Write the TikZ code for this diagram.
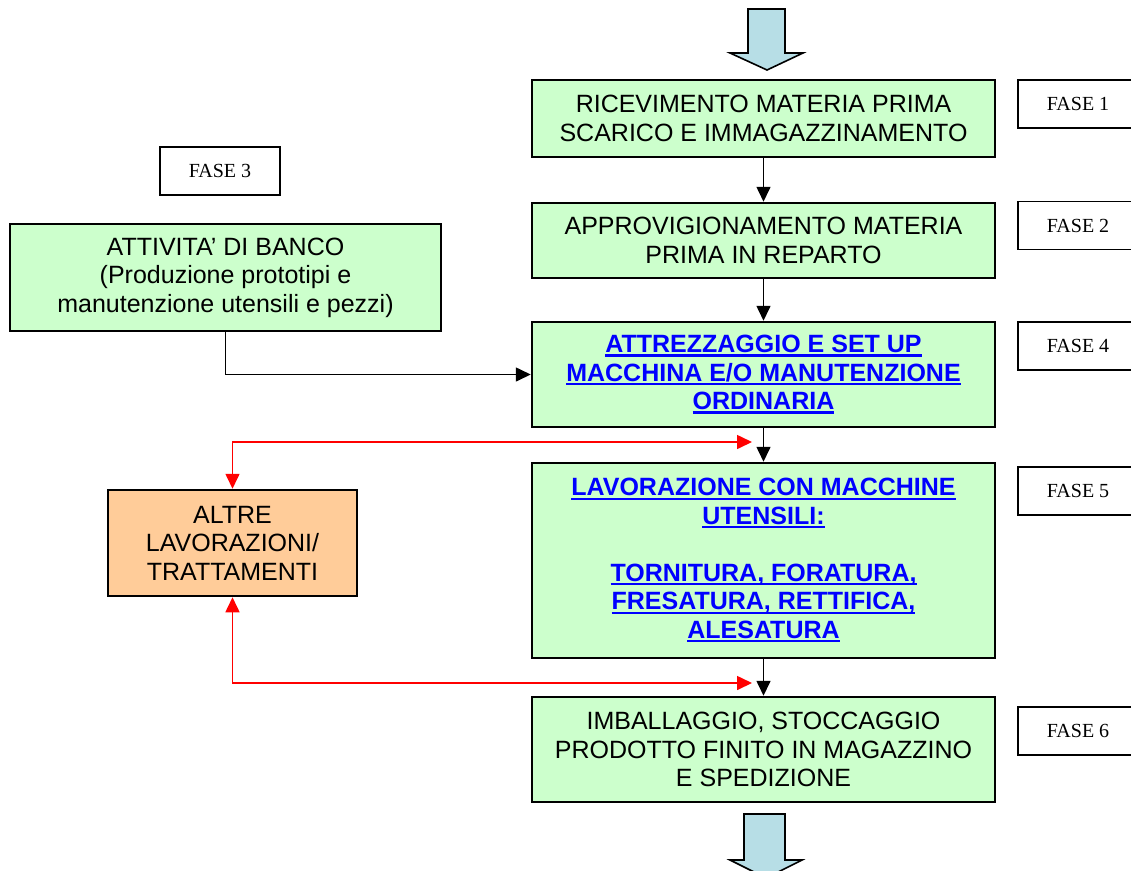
\documentclass[tikz,border=0pt]{standalone}
\usepackage{fontspec}
\setmainfont{Liberation Serif}
\newfontfamily\arial{Liberation Sans}
\usetikzlibrary{arrows.meta}
\definecolor{boxgreen}{HTML}{CCFFCC}
\definecolor{boxorange}{HTML}{FFCC99}
\definecolor{arrowcyan}{RGB}{183,222,230}
\definecolor{linkblue}{HTML}{0000FF}
\newcommand\ulin[1]{\setbox0\hbox{#1}\rlap{\rule[-4pt]{\wd0}{2.4pt}}\box0}
\begin{document}
\begin{tikzpicture}[x=1pt,y=-1pt,
  procbox/.style={draw=black, line width=2.5pt, fill=boxgreen, minimum width=463pt,
    align=center, inner sep=0pt, font=\arial\fontsize{25}{28.5}\selectfont},
  linktext/.style={text=linkblue, font=\arial\bfseries\fontsize{25}{28.5}\selectfont},
  fasebox/.style={draw=black, line width=1.3pt, fill=white, minimum width=120pt,
    minimum height=48pt, inner sep=0pt, font=\fontsize{20}{24}\selectfont},
  flow/.style={draw=black, line width=1.6pt, -{Triangle[length=15pt,width=14pt]}},
  redflow/.style={draw=red, line width=1.6pt, {Triangle[length=15pt,width=14pt]}-{Triangle[length=15pt,width=14pt]}},
  blockarrow/.style={draw=black, line width=1.6pt, fill=arrowcyan, line join=miter}
]
\useasboundingbox (0,0) rectangle (1131,870);
\clip (0,0) rectangle (1131,870);

% block arrows
\draw[blockarrow] (748,9) -- (785,9) -- (785,53) -- (803,53) -- (767,70) -- (730,53) -- (748,53) -- cycle;
\draw[blockarrow] (744,814) -- (785,814) -- (785,860) -- (802,860) -- (766,878) -- (730,860) -- (744,860) -- cycle;

% main process boxes
\node[procbox, minimum height=77pt] (b1) at (763.5,118.5)
  {RICEVIMENTO MATERIA PRIMA\\SCARICO E IMMAGAZZINAMENTO};
\node[procbox, minimum height=75pt] (b2) at (763.5,240.5)
  {APPROVIGIONAMENTO MATERIA\\PRIMA IN REPARTO};
\node[procbox, minimum height=105pt, linktext] (b4) at (763.5,374.5)
  {\ulin{ATTREZZAGGIO E SET UP}\\\ulin{MACCHINA E/O MANUTENZIONE}\\\ulin{ORDINARIA}};
\node[procbox, minimum height=195pt, linktext] (b5) at (763.5,560.5)
  {\ulin{LAVORAZIONE CON MACCHINE}\\\ulin{UTENSILI:}\\\strut\\\ulin{TORNITURA, FORATURA,}\\\ulin{FRESATURA, RETTIFICA,}\\\ulin{ALESATURA}};
\node[procbox, minimum height=105pt] (b6) at (763.5,749.5)
  {IMBALLAGGIO, STOCCAGGIO\\PRODOTTO FINITO IN MAGAZZINO\\E SPEDIZIONE};

% side boxes
\node[procbox, minimum width=431pt, minimum height=107pt] (att) at (225.5,277.5)
  {ATTIVITA’ DI BANCO\\(Produzione prototipi e\\manutenzione utensili e pezzi)};
\node[procbox, fill=boxorange, minimum width=249pt, minimum height=106pt] (altre) at (232.5,543)
  {ALTRE\\LAVORAZIONI/\\TRATTAMENTI};

% phase labels
\node[fasebox] (f1) at (1078,104) {FASE 1};
\node[fasebox] (f2) at (1078,225.5) {FASE 2};
\node[fasebox] (f3) at (220,171) {FASE 3};
\node[fasebox] (f4) at (1078,346) {FASE 4};
\node[fasebox] (f5) at (1078,491) {FASE 5};
\node[fasebox] (f6) at (1078,731) {FASE 6};

% connectors
\draw[flow] (b1.south) -- (b2.north);
\draw[flow] (b2.south) -- (b4.north);
\draw[flow] (b4.south) -- (b5.north);
\draw[flow] (b5.south) -- (b6.north);
\draw[flow] (att.south) |- (b4.west);

\coordinate (ra) at (752,442);
\coordinate (rb) at (752,683);
\draw[redflow] (ra) -| (altre.north);
\draw[redflow] (altre.south) |- (rb);
\end{tikzpicture}
\end{document}
